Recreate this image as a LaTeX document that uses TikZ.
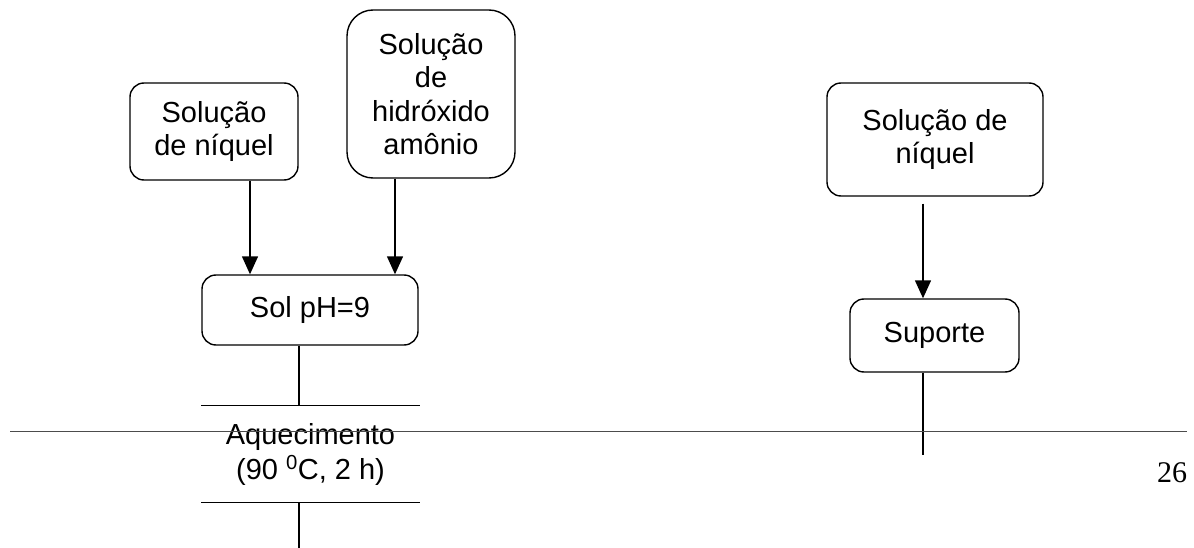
\documentclass[tikz,border=0pt]{standalone}
\usepackage{fontspec}
\setmainfont{Liberation Sans}
\newfontfamily\serifpage{Liberation Serif}
\usetikzlibrary{arrows.meta}
\begin{document}
\begin{tikzpicture}[x=1pt,y=-1pt,
  line width=1.4pt,
  box/.style={draw, rounded corners=14pt, align=center, inner sep=0pt,
    font=\fontsize{29}{33.5}\selectfont},
  arr/.style={-{Triangle[length=18pt,width=16pt]}},
  txt/.style={align=center, inner sep=0pt, font=\fontsize{29}{35}\selectfont}]
\useasboundingbox (0,0) rectangle (1194,548);
% nodes
\node[box, minimum width=168pt, minimum height=97pt] (n1) at (214,131.5) {Solução\\de níquel};
\node[box, rounded corners=26pt, minimum width=168pt, minimum height=168pt] (n2) at (431,94) {Solução\\de\\hidróxido\\amônio};
\node[box, minimum width=216pt, minimum height=70pt] (ph) at (310,310) {Sol pH=9};
\node[txt, minimum width=217pt, minimum height=96pt] (aq) at (310.5,454) {Aquecimento\\(90 \textsuperscript{0}C, 2 h)};
\node[box, minimum width=216pt, minimum height=113pt] (n3) at (935,139.5) {Solução de\\níquel};
\node[box, minimum width=169pt, minimum height=73pt] (sup) at (934.5,335.5) {Suporte};
\node[inner sep=0pt, font=\serifpage\fontsize{30}{30}\selectfont] (pg) at (1172,473) {26};
% guide coordinates
\coordinate (a1) at (250,0);
\coordinate (a2) at (395,0);
\coordinate (v1) at (299,0);
\coordinate (v2) at (923,0);
\coordinate (e1) at (299,548);
\coordinate (e2) at (923,455);
% connectors
\draw[arr] (n1.south -| a1) -- (ph.north -| a1);
\draw[arr] (n2.south -| a2) -- (ph.north -| a2);
\draw (ph.south -| v1) -- (aq.north -| v1);
\draw (aq.north west) -- (aq.north east);
\draw (aq.south west) -- (aq.south east);
\draw (aq.south -| v1) -- (e1);
\draw[arr, shorten <=7pt] (n3.south -| v2) -- (sup.north -| v2);
\draw (sup.south -| v2) -- (e2);
% page rule
\coordinate (r1) at (10,431);
\coordinate (r2) at (1187,431);
\draw[line width=1pt, black!70] (r1) -- (r2);
\end{tikzpicture}
\end{document}
